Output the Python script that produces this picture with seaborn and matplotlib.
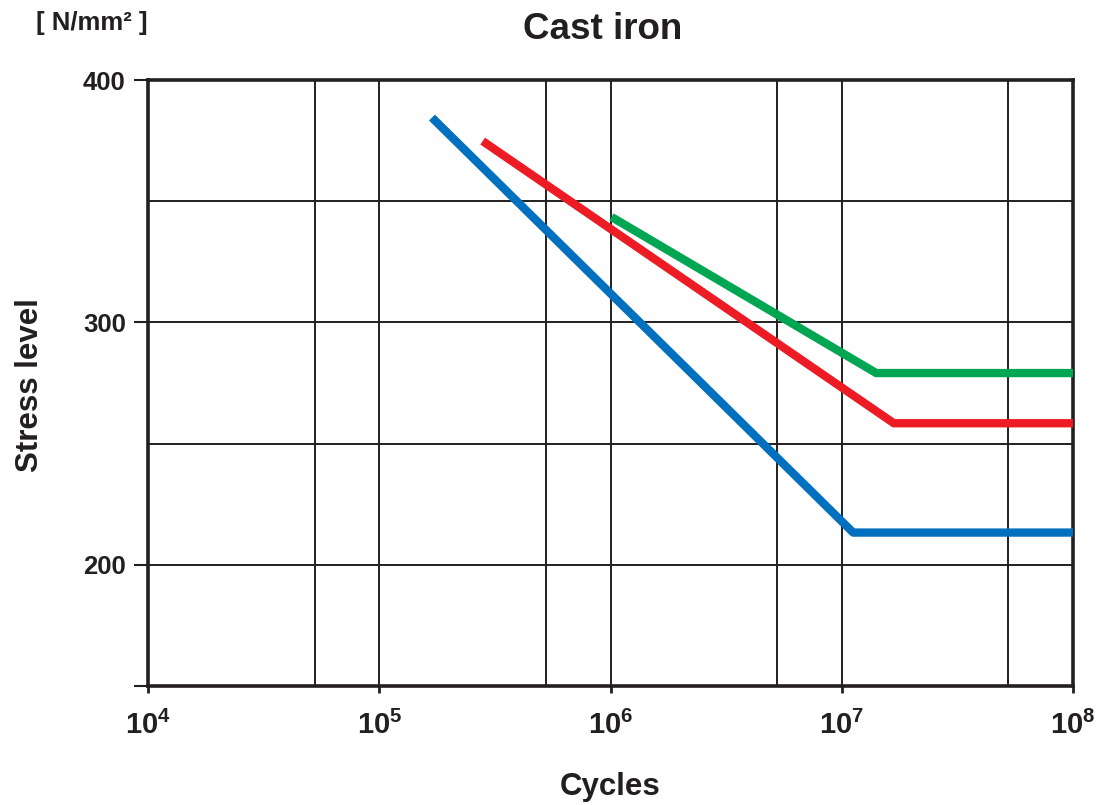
import numpy as np
import pandas as pd
import matplotlib
matplotlib.use("Agg")
import matplotlib.pyplot as plt
import seaborn as sns

# S-N curve data (cycles, stress)
blue_cycles = [1.69e5, 1.12e7, 1e8]
blue_stress = [384.5, 213.3, 213.3]
red_cycles = [2.8e5, 1.68e7, 1e8]
red_stress = [374.8, 258.4, 258.4]
green_cycles = [1.01e6, 1.41e7, 1e8]
green_stress = [343.5, 279.1, 279.1]

x_ticks = [1e4, 1e5, 1e6, 1e7, 1e8]
x_tick_labels = [r'$10^{4}$', r'$10^{5}$', r'$10^{6}$', r'$10^{7}$', r'$10^{8}$']
x_grid_minor = [5.25e4, 5.25e5, 5.25e6, 5.25e7]
y_ticks = [150, 200, 300, 400]
y_tick_labels = ['', '200', '300', '400']
y_grid_minor = [250, 350]

sns.set_theme(style="white")
plt.rcParams['font.family'] = ['Liberation Sans', 'DejaVu Sans']
plt.rcParams['font.weight'] = 'bold'
plt.rcParams['mathtext.fontset'] = 'custom'
plt.rcParams['mathtext.rm'] = 'Liberation Sans:bold'
plt.rcParams['mathtext.it'] = 'Liberation Sans:bold'
plt.rcParams['mathtext.bf'] = 'Liberation Sans:bold'

df = pd.concat([
    pd.DataFrame({'cycles': blue_cycles, 'stress': blue_stress, 'curve': 'blue'}),
    pd.DataFrame({'cycles': red_cycles, 'stress': red_stress, 'curve': 'red'}),
    pd.DataFrame({'cycles': green_cycles, 'stress': green_stress, 'curve': 'green'}),
], ignore_index=True)

palette = {'blue': '#0070BF', 'red': '#ED1C24', 'green': '#00A651'}
ink = '#231F20'

fig = plt.figure(figsize=(11, 8.05), dpi=100)
ax = fig.add_axes([148 / 1100, 1 - 686 / 805, (1073 - 148) / 1100, (686 - 80) / 805])

sns.lineplot(data=df, x='cycles', y='stress', hue='curve', palette=palette,
             sort=False, linewidth=6, legend=False, ax=ax, zorder=3,
             solid_capstyle='butt')

ax.set_xscale('log')
ax.set_xlim(1e4, 1e8)
ax.set_ylim(150, 400)

ax.set_xticks(x_ticks)
ax.set_xticklabels(x_tick_labels)
ax.set_xticks(x_grid_minor, minor=True)
ax.set_yticks(y_ticks)
ax.set_yticklabels(y_tick_labels)
ax.set_yticks(y_grid_minor, minor=True)

ax.tick_params(axis='x', which='major', direction='out', length=5, width=2,
               color=ink, labelsize=21, pad=13, labelcolor=ink, bottom=True)
ax.tick_params(axis='y', which='major', direction='out', length=10, width=1.5,
               color=ink, labelsize=18.5, pad=6, labelcolor=ink, left=True)
ax.tick_params(which='minor', length=0)

ax.grid(True, which='both', color=ink, linewidth=1.4)
for s in ax.spines.values():
    s.set_color(ink)
    s.set_linewidth(2.6)
    s.set_visible(True)
ax.set_xlabel('')
ax.set_ylabel('')

fig.text(603 / 1100, 1 - 39 / 805, 'Cast iron', ha='center', va='baseline',
         fontsize=26.5, fontweight='bold', color=ink)
fig.text(36 / 1100, 1 - 30 / 805, '[ N/mm² ]', ha='left', va='baseline',
         fontsize=18.5, fontweight='bold', color=ink)
fig.text(30 / 1100, 1 - 385 / 805, 'Stress level', ha='center', va='center',
         rotation=90, fontsize=22.5, fontweight='bold', color=ink)
fig.text(610 / 1100, 1 - 795 / 805, 'Cycles', ha='center', va='baseline',
         fontsize=22.5, fontweight='bold', color=ink)

fig.savefig('out.png', dpi=100)
